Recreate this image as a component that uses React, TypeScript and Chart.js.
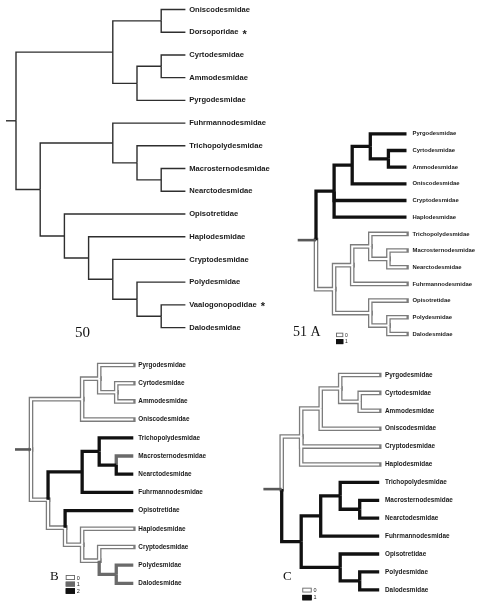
import React, { useEffect, useRef } from "react";
import { Chart, registerables } from "chart.js";
Chart.register(...registerables);

// ---------- DATA ----------
// Figure 50: plain cladogram
const leaves50 = [
  "Oniscodesmidae", "Dorsoporidae", "Cyrtodesmidae", "Ammodesmidae", "Pyrgodesmidae",
  "Fuhrmannodesmidae", "Trichopolydesmidae", "Macrosternodesmidae", "Nearctodesmidae",
  "Opisotretidae", "Haplodesmidae", "Cryptodesmidae", "Polydesmidae", "Vaalogonopodidae", "Dalodesmidae",
];
const marked50 = ["Dorsoporidae", "Vaalogonopodidae"];
const topo50: any = [[[0, 1], [[2, 3], 4]], [[5, [6, [7, 8]]], [9, [10, [11, [12, [13, 14]]]]]]];

// Figure 51 A
const leavesA = [
  "Pyrgodesmidae", "Cyrtodesmidae", "Ammodesmidae", "Oniscodesmidae", "Cryptodesmidae", "Haplodesmidae",
  "Trichopolydesmidae", "Macrosternodesmidae", "Nearctodesmidae", "Fuhrmannodesmidae",
  "Opisotretidae", "Polydesmidae", "Dalodesmidae",
];
const topoA: any = [[[[0, [1, 2]], 3], 4, 5], [[[6, [7, 8]], 9], [10, [11, 12]]]];
// states in preorder (root first); -1 = root stub
const statesA = [-1, 1, 1, 1, 1, 1, 1, 1, 1, 1, 1, 0, 0, 0, 0, 0, 0, 0, 0, 0, 0, 0, 0, 0];
const legendA = ["0", "1"];

// Figure 51 B
const leavesB = [
  "Pyrgodesmidae", "Cyrtodesmidae", "Ammodesmidae", "Oniscodesmidae",
  "Trichopolydesmidae", "Macrosternodesmidae", "Nearctodesmidae", "Fuhrmannodesmidae",
  "Opisotretidae", "Haplodesmidae", "Cryptodesmidae", "Polydesmidae", "Dalodesmidae",
];
const topoB: any = [[[0, [1, 2]], 3], [[[4, [5, 6]], 7], [8, [9, [10, [11, 12]]]]]];
const statesB = [-1, 0, 0, 0, 0, 0, 0, 0, 0, 2, 2, 2, 2, 1, 2, 2, 0, 2, 0, 0, 0, 0, 1, 1, 1];
const legendB = ["0", "1", "2"];

// Figure 51 C
const leavesC = [
  "Pyrgodesmidae", "Cyrtodesmidae", "Ammodesmidae", "Oniscodesmidae", "Cryptodesmidae", "Haplodesmidae",
  "Trichopolydesmidae", "Macrosternodesmidae", "Nearctodesmidae", "Fuhrmannodesmidae",
  "Opisotretidae", "Polydesmidae", "Dalodesmidae",
];
const topoC: any = [[[[0, [1, 2]], 3], 4, 5], [[[6, [7, 8]], 9], [10, [11, 12]]]];
const statesC = [-1, 0, 0, 0, 0, 0, 0, 0, 0, 0, 0, 1, 1, 1, 1, 1, 1, 1, 1, 1, 1, 1, 1, 1];
const legendC = ["0", "1"];

// ---------- LAYOUT / STYLE ----------
const W = 484;
const H = 605;

type Style = "plain" | "double" | "black" | "gray" | "stub" | "stubThin";

const PANELS = [
  {
    id: "50", leaves: leaves50, topo: topo50, states: null as number[] | null, marked: marked50,
    palette: {} as Record<number, Style>, rootStyle: "stubThin" as Style,
    x0: 16, dx: 24.2, y0: 9.5, dy: 22.72, stub: 10, font: 7.6, gap: 3.8,
    title: "50", titleX: 75, titleY: 333, titleSize: 15, legend: [] as string[], legX: 0, legY: 0, legW: 0, legH: 0, legStep: 0, legFont: 5,
  },
  {
    id: "A", leaves: leavesA, topo: topoA, states: statesA, marked: [] as string[],
    palette: { 0: "double", 1: "black" } as Record<number, Style>, rootStyle: "stub" as Style,
    x0: 316, dx: 18.1, y0: 133.8, dy: 16.68, stub: 18.3, font: 5.9, gap: 6,
    title: "51 A", titleX: 293, titleY: 332, titleSize: 14, legend: legendA, legX: 336, legY: 332.7, legW: 7.3, legH: 4.4, legStep: 6.4, legFont: 5,
  },
  {
    id: "B", leaves: leavesB, topo: topoB, states: statesB, marked: [] as string[],
    palette: { 0: "double", 1: "gray", 2: "black" } as Record<number, Style>, rootStyle: "stub" as Style,
    x0: 31, dx: 17.05, y0: 365, dy: 18.2, stub: 16, font: 6.4, gap: 5,
    title: "B", titleX: 50, titleY: 577, titleSize: 13, legend: legendB, legX: 65.7, legY: 575, legW: 9.3, legH: 5, legStep: 6.6, legFont: 5.5,
  },
  {
    id: "C", leaves: leavesC, topo: topoC, states: statesC, marked: [] as string[],
    palette: { 0: "double", 1: "black" } as Record<number, Style>, rootStyle: "stub" as Style,
    x0: 281.7, dx: 19.5, y0: 375, dy: 17.9, stub: 18.3, font: 6.4, gap: 5.8,
    title: "C", titleX: 283, titleY: 577, titleSize: 13, legend: legendC, legX: 302.3, legY: 587.7, legW: 9.4, legH: 4.8, legStep: 7.2, legFont: 5.5,
  },
];

const LABEL_FONT = "'Liberation Sans', Arial, Helvetica, sans-serif";
const TITLE_FONT = "'Liberation Serif', 'Times New Roman', serif";

interface TNode { leaf: number | null; parent: number; h: number; y: number; x: number; }

function layoutTree(topo: any): TNode[] {
  const nodes: TNode[] = [];
  const visit = (t: any, parent: number): number => {
    const idx = nodes.length;
    nodes.push({ leaf: null, parent, h: 0, y: 0, x: 0 });
    if (typeof t === "number") {
      nodes[idx].leaf = t;
      nodes[idx].y = t;
      return idx;
    }
    const kids = t.map((c: any) => visit(c, idx));
    nodes[idx].h = 1 + Math.max(...kids.map((k: number) => nodes[k].h));
    nodes[idx].y = (nodes[kids[0]].y + nodes[kids[kids.length - 1]].y) / 2;
    return idx;
  };
  visit(topo, -1);
  const L = nodes[0].h;
  nodes.forEach((n) => (n.x = L - n.h));
  return nodes;
}

function styleSets(style: Style) {
  switch (style) {
    case "plain":
      return [{ color: "#2e2e2e", width: 1.4, order: 1, cap: "butt" }];
    case "stubThin":
      return [{ color: "#2e2e2e", width: 1.4, order: 1, cap: "butt" }];
    case "black":
      return [{ color: "#111111", width: 3.3, order: 1, cap: "butt" }];
    case "gray":
      return [{ color: "#6a6a6a", width: 3.3, order: 1, cap: "butt" }];
    case "stub":
      return [{ color: "#585858", width: 2.6, order: 1, cap: "butt" }];
    case "double":
    default:
      return [
        { color: "#7c7c7c", width: 4.6, order: 3, cap: "square" },
        { color: "#ffffff", width: 2.0, order: 2, cap: "butt" },
      ];
  }
}

function buildDatasets() {
  const datasets: any[] = [];
  PANELS.forEach((p) => {
    const nodes = layoutTree(p.topo);
    nodes.forEach((n, i) => {
      let pts: { x: number; y: number }[];
      let style: Style;
      if (n.parent < 0) {
        pts = [{ x: n.x - p.stub / p.dx, y: n.y }, { x: n.x, y: n.y }];
        style = p.rootStyle;
      } else {
        const par = nodes[n.parent];
        pts = [{ x: par.x, y: par.y }, { x: par.x, y: n.y }, { x: n.x, y: n.y }];
        style = p.states ? p.palette[p.states[i]] : "plain";
      }
      styleSets(style).forEach((s) => {
        datasets.push({
          data: pts,
          xAxisID: "x" + p.id,
          yAxisID: "y" + p.id,
          showLine: true,
          borderColor: s.color,
          backgroundColor: s.color,
          borderWidth: s.width,
          borderCapStyle: s.cap,
          borderJoinStyle: "miter",
          pointRadius: 0,
          pointHoverRadius: 0,
          tension: 0,
          fill: false,
          order: s.order,
          clip: false,
        });
      });
    });
  });
  return datasets;
}

function buildScales() {
  const scales: any = {};
  PANELS.forEach((p) => {
    scales["x" + p.id] = {
      type: "linear", axis: "x", display: false,
      min: -p.x0 / p.dx, max: (W - p.x0) / p.dx,
    };
    scales["y" + p.id] = {
      type: "linear", axis: "y", display: false, reverse: true,
      min: -p.y0 / p.dy, max: (H - p.y0) / p.dy,
    };
  });
  return scales;
}

const textPlugin = {
  id: "treeText",
  afterDatasetsDraw(chart: any) {
    const ctx = chart.ctx as CanvasRenderingContext2D;
    ctx.save();
    PANELS.forEach((p) => {
      const xs = chart.scales["x" + p.id];
      const ys = chart.scales["y" + p.id];
      const nodes = layoutTree(p.topo);
      const L = nodes[0].h;
      ctx.font = `bold ${p.font}px ${LABEL_FONT}`;
      ctx.fillStyle = "#1a1a1a";
      ctx.textBaseline = "middle";
      ctx.textAlign = "left";
      p.leaves.forEach((name, i) => {
        const px = xs.getPixelForValue(L) + p.gap;
        const py = ys.getPixelForValue(i);
        ctx.font = `bold ${p.font}px ${LABEL_FONT}`;
        ctx.fillText(name, px, py);
        if (p.marked.includes(name)) {
          const w = ctx.measureText(name).width;
          ctx.font = `bold 11px ${LABEL_FONT}`;
          ctx.fillText("*", px + w + 4, py + 2.5);
        }
      });
      // panel title
      ctx.font = `${p.titleSize}px ${TITLE_FONT}`;
      ctx.fillStyle = "#111";
      ctx.textBaseline = "middle";
      ctx.fillText(p.title, p.titleX, p.titleY);
      // legend
      p.legend.forEach((lab, k) => {
        const by = p.legY + k * p.legStep;
        const isLast = k === p.legend.length - 1;
        let fill = "#ffffff";
        if (lab === "1") fill = p.legend.length === 3 ? "#6a6a6a" : "#111111";
        if (lab === "2") fill = "#111111";
        ctx.fillStyle = fill;
        ctx.fillRect(p.legX, by, p.legW, p.legH + (isLast && lab !== "0" ? 0.6 : 0));
        ctx.strokeStyle = lab === "0" ? "#666" : fill;
        ctx.lineWidth = 0.9;
        ctx.strokeRect(p.legX + 0.45, by + 0.45, p.legW - 0.9, p.legH - 0.9 + (isLast && lab !== "0" ? 0.6 : 0));
        ctx.fillStyle = "#222";
        ctx.font = `${p.legFont}px ${LABEL_FONT}`;
        ctx.textBaseline = "middle";
        ctx.fillText(lab, p.legX + p.legW + 1.8, by + p.legH / 2 + 0.5);
      });
    });
    ctx.restore();
  },
};

export default function App() {
  const ref = useRef<HTMLCanvasElement | null>(null);
  useEffect(() => {
    document.body.style.margin = "0";
    document.body.style.background = "#ffffff";
    if (!ref.current) return;
    const chart = new Chart(ref.current, {
      type: "scatter",
      data: { datasets: buildDatasets() },
      options: {
        animation: false,
        responsive: false,
        maintainAspectRatio: false,
        devicePixelRatio: 1,
        events: [],
        layout: { padding: 0 },
        plugins: { legend: { display: false }, tooltip: { enabled: false }, title: { display: false } },
        scales: buildScales(),
      } as any,
      plugins: [textPlugin],
    });
    return () => chart.destroy();
  }, []);
  return (
    <div style={{ width: W, height: H, background: "#fff" }}>
      <canvas ref={ref} width={W} height={H} style={{ display: "block", width: W, height: H }} />
    </div>
  );
}
